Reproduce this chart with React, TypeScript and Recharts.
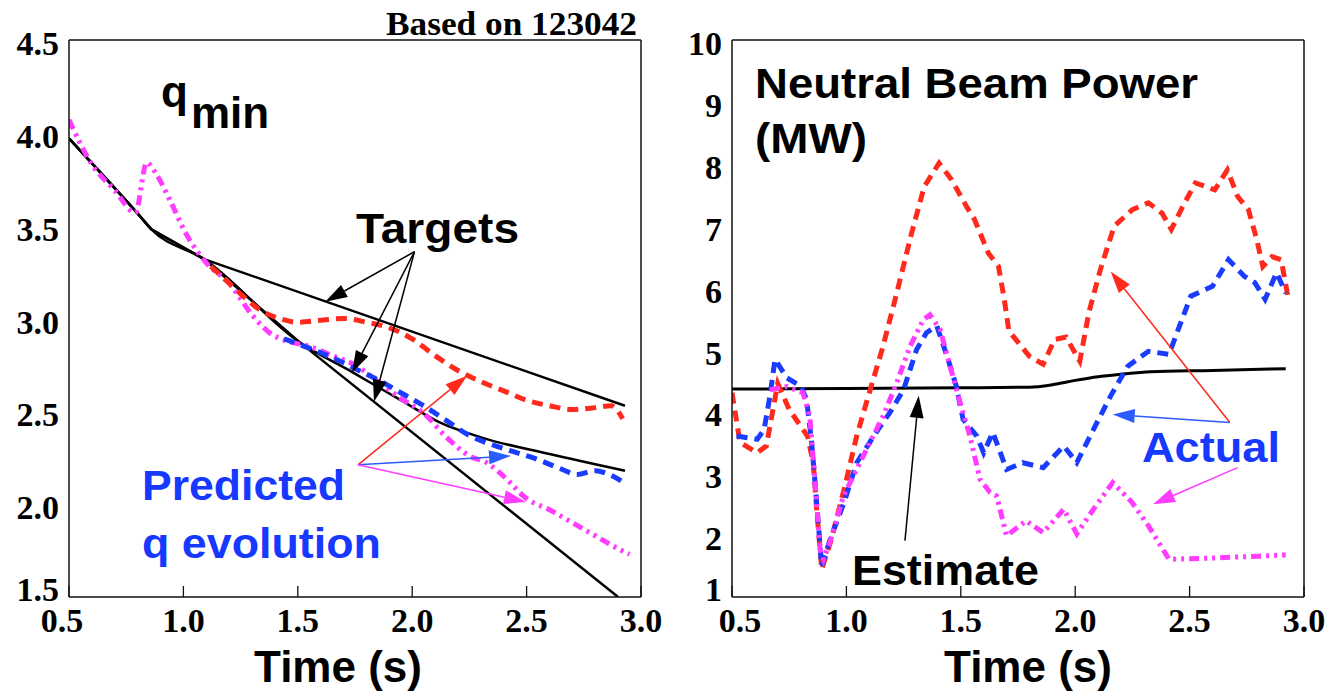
import React from 'react'
import { LineChart, Line, XAxis, YAxis, ReferenceLine } from 'recharts'

// ---- left panel: q_min (targets + predicted) ----
const targetHighTime = [0.5, 0.79, 0.86, 1.09, 2.93]
const targetHighQ = [3.97, 3.58, 3.48, 3.32, 2.53]
const targetMidTime = [0.5, 0.79, 0.86, 1.09, 1.51, 1.74, 1.95, 2.12, 2.3, 2.6, 2.93]
const targetMidQ = [3.97, 3.58, 3.48, 3.32, 2.87, 2.71, 2.56, 2.44, 2.36, 2.27, 2.18]
const targetLowTime = [0.5, 0.79, 0.86, 1.09, 1.51, 2.9]
const targetLowQ = [3.97, 3.58, 3.48, 3.32, 2.87, 1.5]

const predRedTime = [1.12, 1.2, 1.27, 1.33, 1.42, 1.5, 1.6, 1.7, 1.8, 1.9, 2.0, 2.1, 2.2, 2.3, 2.4, 2.5, 2.6, 2.7, 2.8, 2.87, 2.92]
const predRedQ = [3.28, 3.19, 3.11, 3.05, 3.0, 2.98, 2.99, 3.0, 2.98, 2.95, 2.89, 2.8, 2.72, 2.66, 2.61, 2.56, 2.53, 2.51, 2.52, 2.53, 2.46]

const predBlueTime = [1.44, 1.55, 1.65, 1.75, 1.85, 1.95, 2.05, 2.15, 2.25, 2.35, 2.45, 2.55, 2.65, 2.72, 2.8, 2.86, 2.92]
const predBlueQ = [2.89, 2.84, 2.79, 2.73, 2.67, 2.6, 2.53, 2.45, 2.37, 2.32, 2.28, 2.24, 2.19, 2.16, 2.18, 2.16, 2.12]

const predMagTime = [0.5, 0.6, 0.7, 0.79, 0.84, 0.88, 0.94, 1.01, 1.1, 1.2, 1.3, 1.38, 1.45, 1.55, 1.65, 1.75, 1.85, 1.95, 2.05, 2.15, 2.25, 2.33, 2.4, 2.5, 2.6, 2.7, 2.8, 2.9, 2.95]
const predMagQ = [4.07, 3.83, 3.69, 3.57, 3.84, 3.78, 3.64, 3.46, 3.3, 3.19, 3.02, 2.92, 2.88, 2.85, 2.8, 2.75, 2.66, 2.57, 2.49, 2.36, 2.26, 2.22, 2.15, 2.03, 1.97, 1.9, 1.83, 1.76, 1.73]

// ---- right panel: neutral beam power (MW) ----
const estimateTime = [0.5, 1.0, 1.5, 1.8, 1.9, 2.0, 2.1, 2.2, 2.33, 2.6, 2.92]
const estimateP = [4.36, 4.37, 4.38, 4.39, 4.43, 4.5, 4.56, 4.6, 4.64, 4.66, 4.69]

const nbRedTime = [0.5, 0.535, 0.61, 0.65, 0.7, 0.75, 0.83, 0.855, 0.87, 0.892, 0.93, 0.99, 1.045, 1.1, 1.16, 1.22, 1.285, 1.34, 1.405, 1.46, 1.525, 1.56, 1.62, 1.665, 1.69, 1.71, 1.8, 1.86, 1.91, 1.96, 2.02, 2.06, 2.11, 2.17, 2.25, 2.32, 2.38, 2.42, 2.47, 2.525, 2.61, 2.665, 2.71, 2.757, 2.794, 2.82, 2.86, 2.9, 2.93]
const nbRedP = [4.3, 3.5, 3.33, 3.44, 4.45, 4.03, 3.6, 3.17, 2.42, 1.45, 1.88, 2.74, 3.6, 4.3, 5.05, 5.91, 6.88, 7.63, 8.01, 7.74, 7.31, 7.1, 6.56, 6.34, 5.81, 5.3, 4.89, 4.76, 5.16, 5.2, 4.81, 5.6, 6.29, 6.99, 7.26, 7.37, 7.2, 6.94, 7.31, 7.69, 7.58, 7.9, 7.47, 7.26, 6.77, 6.34, 6.5, 6.45, 5.85]

const nbBlueTime = [0.52, 0.61, 0.64, 0.666, 0.688, 0.74, 0.8, 0.826, 0.848, 0.863, 0.892, 0.93, 0.99, 1.045, 1.13, 1.19, 1.25, 1.307, 1.35, 1.395, 1.44, 1.48, 1.51, 1.57, 1.6, 1.64, 1.7, 1.77, 1.86, 1.95, 2.007, 2.08, 2.155, 2.23, 2.32, 2.41, 2.45, 2.505, 2.6, 2.67, 2.74, 2.785, 2.83, 2.88, 2.92]
const nbBlueP = [3.6, 3.55, 3.7, 4.25, 4.84, 4.54, 4.41, 4.19, 3.5, 2.85, 1.5, 1.94, 2.53, 3.17, 3.66, 3.98, 4.35, 5.0, 5.27, 5.38, 4.89, 4.41, 3.87, 3.6, 3.33, 3.66, 3.06, 3.17, 3.09, 3.44, 3.17, 3.71, 4.25, 4.73, 4.97, 4.92, 5.32, 5.86, 6.02, 6.45, 6.18, 6.08, 5.81, 6.24, 5.91]

const nbMagTime = [0.666, 0.74, 0.81, 0.84, 0.863, 0.885, 0.9, 0.928, 0.987, 1.074, 1.16, 1.22, 1.278, 1.336, 1.365, 1.41, 1.453, 1.497, 1.54, 1.584, 1.628, 1.657, 1.7, 1.785, 1.86, 1.95, 2.007, 2.08, 2.164, 2.248, 2.32, 2.41, 2.6, 2.8, 2.92]
const nbMagP = [4.35, 4.4, 4.3, 3.92, 2.85, 1.77, 1.61, 1.88, 2.63, 3.28, 3.92, 4.46, 5.05, 5.48, 5.56, 5.32, 4.73, 4.14, 3.6, 2.9, 2.69, 2.63, 1.99, 2.23, 2.04, 2.42, 2.02, 2.42, 2.85, 2.53, 2.15, 1.61, 1.63, 1.66, 1.68]

// ticks
const timeTicks = [0.5, 1.0, 1.5, 2.0, 2.5, 3.0]
const timeInnerTicks = [1.0, 1.5, 2.0, 2.5]
const qTicks = [1.5, 2.0, 2.5, 3.0, 3.5, 4.0, 4.5]
const powerTicks = [1, 2, 3, 4, 5, 6, 7, 8, 9, 10]

const RED = '#ff2a1c'
const BLUE = '#1a3cff'
const MAGENTA = '#ff3cff'
const TEXT_BLUE = '#1638ff'

// annotation arrows, in data units [time, value]
const qArrows: { from: [number, number]; to: [number, number]; color: string }[] = [
  { from: [2.01, 3.36], to: [1.62, 3.09], color: '#000' },
  { from: [2.01, 3.36], to: [1.737, 2.708], color: '#000' },
  { from: [2.01, 3.36], to: [1.833, 2.552], color: '#000' },
  { from: [1.763, 2.212], to: [2.24, 2.692], color: RED },
  { from: [1.763, 2.212], to: [2.432, 2.26], color: '#2a5cff' },
  { from: [1.763, 2.212], to: [2.497, 2.012], color: MAGENTA },
]
const nbArrows: { from: [number, number]; to: [number, number]; color: string }[] = [
  { from: [1.256, 1.91], to: [1.316, 4.25], color: '#000' },
  { from: [2.676, 3.82], to: [2.155, 6.26], color: RED },
  { from: [2.676, 3.82], to: [2.164, 3.95], color: '#2a5cff' },
  { from: [2.71, 3.09], to: [2.34, 2.5], color: MAGENTA },
]

const zip = (ts: number[], vs: number[]) => ts.map((t, i) => ({ t, v: vs[i] }))

const serif = '"Liberation Serif", "Times New Roman", serif'
const sans = '"Liberation Sans", Arial, Helvetica, sans-serif'

function Arrow(props: any) {
  const { x1, y1, x2, y2, color } = props
  const dx = x2 - x1
  const dy = y2 - y1
  const len = Math.hypot(dx, dy) || 1
  const ux = dx / len
  const uy = dy / len
  const head = 22
  const half = 7
  const bx = x2 - ux * head
  const by = y2 - uy * head
  const px = -uy * half
  const py = ux * half
  return (
    <g>
      <line x1={x1} y1={y1} x2={bx} y2={by} stroke={color} strokeWidth={1.5} />
      <polygon points={`${x2},${y2} ${bx + px},${by + py} ${bx - px},${by - py}`} fill={color} />
    </g>
  )
}

// tick labels: bold serif, nudged like the original plot software does
function XTick(props: any) {
  const { x, y, payload, firstShift } = props
  const shift = payload.value === timeTicks[0] ? firstShift : 0
  return (
    <text x={x + shift} y={y} dy="0.71em" textAnchor="middle" fill="#000" fontSize={34} fontWeight={700} fontFamily={serif}>
      {payload.value.toFixed(1)}
    </text>
  )
}

function YTick(props: any) {
  const { x, y, payload, min, format } = props
  const shift = payload.value === min ? -8 : 3
  return (
    <text x={x} y={y + shift} dy="0.355em" textAnchor="end" fill="#000" fontSize={34} fontWeight={700} fontFamily={serif}>
      {format(payload.value)}
    </text>
  )
}

type SeriesDef = { data: { t: number; v: number }[]; color: string; width: number; dash?: string; type?: 'linear' | 'monotone' }

interface PanelProps {
  width: number
  margin: { top: number; right: number; bottom: number; left: number }
  yAxisWidth: number
  yDomain: [number, number]
  yTicks: number[]
  yFormat: (v: number) => string
  series: SeriesDef[]
  arrows: { from: [number, number]; to: [number, number]; color: string }[]
  titleDx: number
  firstShift: number
}

function Panel({ width, margin, yAxisWidth, yDomain, yTicks, yFormat, series, arrows, titleDx, firstShift }: PanelProps) {
  const frame = { stroke: '#111', strokeWidth: 1.5 }
  const tickLine = { stroke: '#111', strokeWidth: 1.3 }
  return (
    <LineChart width={width} height={693} margin={margin}>
      <XAxis
        type="number"
        dataKey="t"
        domain={[0.5, 3]}
        allowDataOverflow
        ticks={timeTicks}
        interval={0}
        tickSize={-11}
        tickMargin={22}
        axisLine={frame}
        tickLine={tickLine}
        tick={(p: any) => <XTick {...p} firstShift={firstShift} />}
        height={85}
        label={{ value: 'Time (s)', position: 'insideBottom', offset: 0, dx: titleDx, fill: '#000', fontSize: 44, fontWeight: 700, fontFamily: sans }}
      />
      <XAxis
        xAxisId="top"
        orientation="top"
        type="number"
        domain={[0.5, 3]}
        allowDataOverflow
        ticks={timeInnerTicks}
        interval={0}
        tickSize={-11}
        height={1}
        tick={false}
        axisLine={frame}
        tickLine={tickLine}
      />
      <YAxis
        type="number"
        domain={yDomain}
        allowDataOverflow
        ticks={yTicks}
        interval={0}
        tickLine={false}
        tickSize={0}
        tickMargin={10}
        width={yAxisWidth}
        axisLine={frame}
        tick={(p: any) => <YTick {...p} min={yDomain[0]} format={yFormat} />}
      />
      <YAxis
        yAxisId="right"
        orientation="right"
        type="number"
        domain={yDomain}
        allowDataOverflow
        ticks={yTicks}
        interval={0}
        tickSize={-12}
        width={1}
        tick={false}
        axisLine={frame}
        tickLine={tickLine}
      />
      {series.map((s, i) => (
        <Line
          key={i}
          data={s.data}
          dataKey="v"
          type={s.type ?? 'linear'}
          stroke={s.color}
          strokeWidth={s.width}
          strokeDasharray={s.dash}
          strokeLinecap="butt"
          dot={false}
          activeDot={false}
          isAnimationActive={false}
        />
      ))}
      {arrows.map((a, i) => (
        <ReferenceLine
          key={`arrow-${i}`}
          segment={[{ x: a.from[0], y: a.from[1] }, { x: a.to[0], y: a.to[1] }]}
          stroke={a.color}
          shape={(p: any) => <Arrow {...p} color={a.color} />}
        />
      ))}
    </LineChart>
  )
}

const DASH = '11 7'
const DASH_DOT_DOT = '10 5 3 5 3 5'

export default function App() {
  const qSeries: SeriesDef[] = [
    { data: zip(targetHighTime, targetHighQ), color: '#000', width: 2.5 },
    { data: zip(targetMidTime, targetMidQ), color: '#000', width: 2.5, type: 'monotone' },
    { data: zip(targetLowTime, targetLowQ), color: '#000', width: 2.5 },
    { data: zip(predMagTime, predMagQ), color: MAGENTA, width: 5, dash: DASH_DOT_DOT, type: 'monotone' },
    { data: zip(predBlueTime, predBlueQ), color: BLUE, width: 5, dash: DASH, type: 'monotone' },
    { data: zip(predRedTime, predRedQ), color: RED, width: 5, dash: DASH, type: 'monotone' },
  ]
  const nbSeries: SeriesDef[] = [
    { data: zip(estimateTime, estimateP), color: '#000', width: 3, type: 'monotone' },
    { data: zip(nbRedTime, nbRedP), color: RED, width: 5, dash: DASH },
    { data: zip(nbBlueTime, nbBlueP), color: BLUE, width: 5, dash: DASH },
    { data: zip(nbMagTime, nbMagP), color: MAGENTA, width: 5, dash: DASH_DOT_DOT },
  ]

  const big = { fontFamily: sans, fontWeight: 700, fontSize: 43 }

  return (
    <div style={{ position: 'absolute', left: 0, top: 0, width: 1329, height: 693, background: '#fff', overflow: 'hidden' }}>
      <div style={{ position: 'absolute', left: 0, top: 0 }}>
        <Panel
          width={670}
          margin={{ top: 39, right: 28, bottom: 11, left: 9 }}
          yAxisWidth={60}
          yDomain={[1.5, 4.5]}
          yTicks={qTicks}
          yFormat={(v) => v.toFixed(1)}
          series={qSeries}
          arrows={qArrows}
          titleDx={-17}
          firstShift={-7}
        />
      </div>
      <div style={{ position: 'absolute', left: 670, top: 0 }}>
        <Panel
          width={659}
          margin={{ top: 39, right: 24, bottom: 11, left: 7 }}
          yAxisWidth={55}
          yDomain={[1, 10]}
          yTicks={powerTicks}
          yFormat={(v) => String(v)}
          series={nbSeries}
          arrows={nbArrows}
          titleDx={10}
          firstShift={8}
        />
      </div>
      <svg width={1329} height={693} style={{ position: 'absolute', left: 0, top: 0, pointerEvents: 'none' }}>
        <text x={637} y={35} textAnchor="end" fontFamily={serif} fontWeight={700} fontSize={34} fill="#000" textLength={251} lengthAdjust="spacingAndGlyphs">
          Based on 123042
        </text>
        <text x={161} y={107} {...big} fontSize={44} fill="#000">
          q<tspan x={191} y={128}>min</tspan>
        </text>
        <text x={356} y={243} {...big} fill="#000" textLength={163} lengthAdjust="spacingAndGlyphs">Targets</text>
        <text x={142} y={500} {...big} fill={TEXT_BLUE} textLength={203} lengthAdjust="spacingAndGlyphs">Predicted</text>
        <text x={142} y={558} {...big} fill={TEXT_BLUE} textLength={239} lengthAdjust="spacingAndGlyphs">q evolution</text>
        <text x={755} y={98} {...big} fill="#000" textLength={443} lengthAdjust="spacingAndGlyphs">Neutral Beam Power</text>
        <text x={755} y={153} {...big} fill="#000" textLength={112} lengthAdjust="spacingAndGlyphs">(MW)</text>
        <text x={1142} y={462} {...big} fill={TEXT_BLUE} textLength={138} lengthAdjust="spacingAndGlyphs">Actual</text>
        <text x={852} y={585} {...big} fill="#000" textLength={187} lengthAdjust="spacingAndGlyphs">Estimate</text>
      </svg>
    </div>
  )
}
